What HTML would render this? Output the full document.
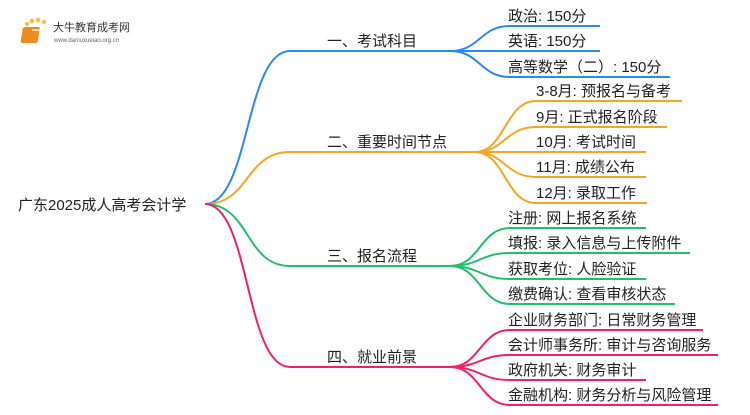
<!DOCTYPE html>
<html><head><meta charset="utf-8"><style>
body{margin:0;width:750px;height:410px;background:#fff;overflow:hidden;font-family:"Liberation Sans","Noto Sans CJK SC",sans-serif}
svg text{font-family:"Liberation Sans","Noto Sans CJK SC",sans-serif;font-size:15px;fill:#222}
</style></head><body>
<svg width="750" height="410" viewBox="0 0 750 410" xmlns="http://www.w3.org/2000/svg">
<!-- logo -->
<g>
<circle cx="24" cy="30" r="2" fill="#f7c04a"/><circle cx="27" cy="24" r="2.2" fill="#f7c04a"/><circle cx="32" cy="21" r="2.4" fill="#f7c04a"/><circle cx="38" cy="20" r="2.4" fill="#f7c04a"/><circle cx="44" cy="22" r="2.2" fill="#f7c04a"/><circle cx="23" cy="37" r="1.8" fill="#f7c04a"/>
<rect x="28" y="27" width="17" height="16" rx="2" fill="#f08a1c" transform="skewX(-10)"/>
<rect x="32" y="29" width="10" height="2" fill="#fff" opacity=".7"/>
<text x="53" y="31" style="font-size:11px;fill:#333">大牛教育成考网</text>
<text x="54" y="42" style="font-size:6px;fill:#666">www.daniuxueiao.org.cn</text>
</g>
<g fill="none" stroke-width="2">
<!-- blue -->
<g stroke="#2a8cf0">
<path d="M205 204 C250 204 245 51 290 51 H450"/>
<path d="M450 51 C480 51 480 26 510 26 H600"/>
<path d="M450 51 H600"/>
<path d="M450 51 C480 51 480 77 510 77 H670"/>
</g>
<g stroke="#f5a623">
<path d="M205 204 C250 204 245 152 290 152 H475"/>
<path d="M475 152 C505 152 505 101 536 101 H682"/>
<path d="M475 152 C505 152 505 127 536 127 H667"/>
<path d="M475 152 H646"/>
<path d="M475 152 C505 152 505 177 536 177 H646"/>
<path d="M475 152 C505 152 505 203 536 203 H647"/>
</g>
<g stroke="#22bf6c">
<path d="M205 204 C250 204 245 266 290 266 H450"/>
<path d="M450 266 C480 266 480 228 510 228 H646"/>
<path d="M450 266 C480 266 480 253 510 253 H690"/>
<path d="M450 266 C480 266 480 279 510 279 H646"/>
<path d="M450 266 C480 266 480 304 510 304 H675"/>
</g>
<g stroke="#f0206e">
<path d="M205 204 C250 204 245 367 290 367 H450"/>
<path d="M450 367 C480 367 480 330 510 330 H703"/>
<path d="M450 367 C480 367 480 355 510 355 H718"/>
<path d="M450 367 C480 367 480 380 510 380 H646"/>
<path d="M450 367 C480 367 480 405 510 405 H718"/>
</g>
</g>
<text x="18" y="210">广东2025成人高考会计学</text>
<text x="327" y="46">一、考试科目</text>
<text x="327" y="147">二、重要时间节点</text>
<text x="327" y="261">三、报名流程</text>
<text x="327" y="362">四、就业前景</text>
<text x="508" y="21">政治: 150分</text>
<text x="508" y="46">英语: 150分</text>
<text x="508" y="72">高等数学（二）: 150分</text>
<text x="536" y="96">3-8月: 预报名与备考</text>
<text x="536" y="122">9月: 正式报名阶段</text>
<text x="536" y="147">10月: 考试时间</text>
<text x="536" y="172">11月: 成绩公布</text>
<text x="536" y="198">12月: 录取工作</text>
<text x="508" y="223">注册: 网上报名系统</text>
<text x="508" y="248">填报: 录入信息与上传附件</text>
<text x="508" y="274">获取考位: 人脸验证</text>
<text x="508" y="299">缴费确认: 查看审核状态</text>
<text x="508" y="325">企业财务部门: 日常财务管理</text>
<text x="508" y="350">会计师事务所: 审计与咨询服务</text>
<text x="508" y="375">政府机关: 财务审计</text>
<text x="508" y="400">金融机构: 财务分析与风险管理</text>
</svg>
</body></html>
